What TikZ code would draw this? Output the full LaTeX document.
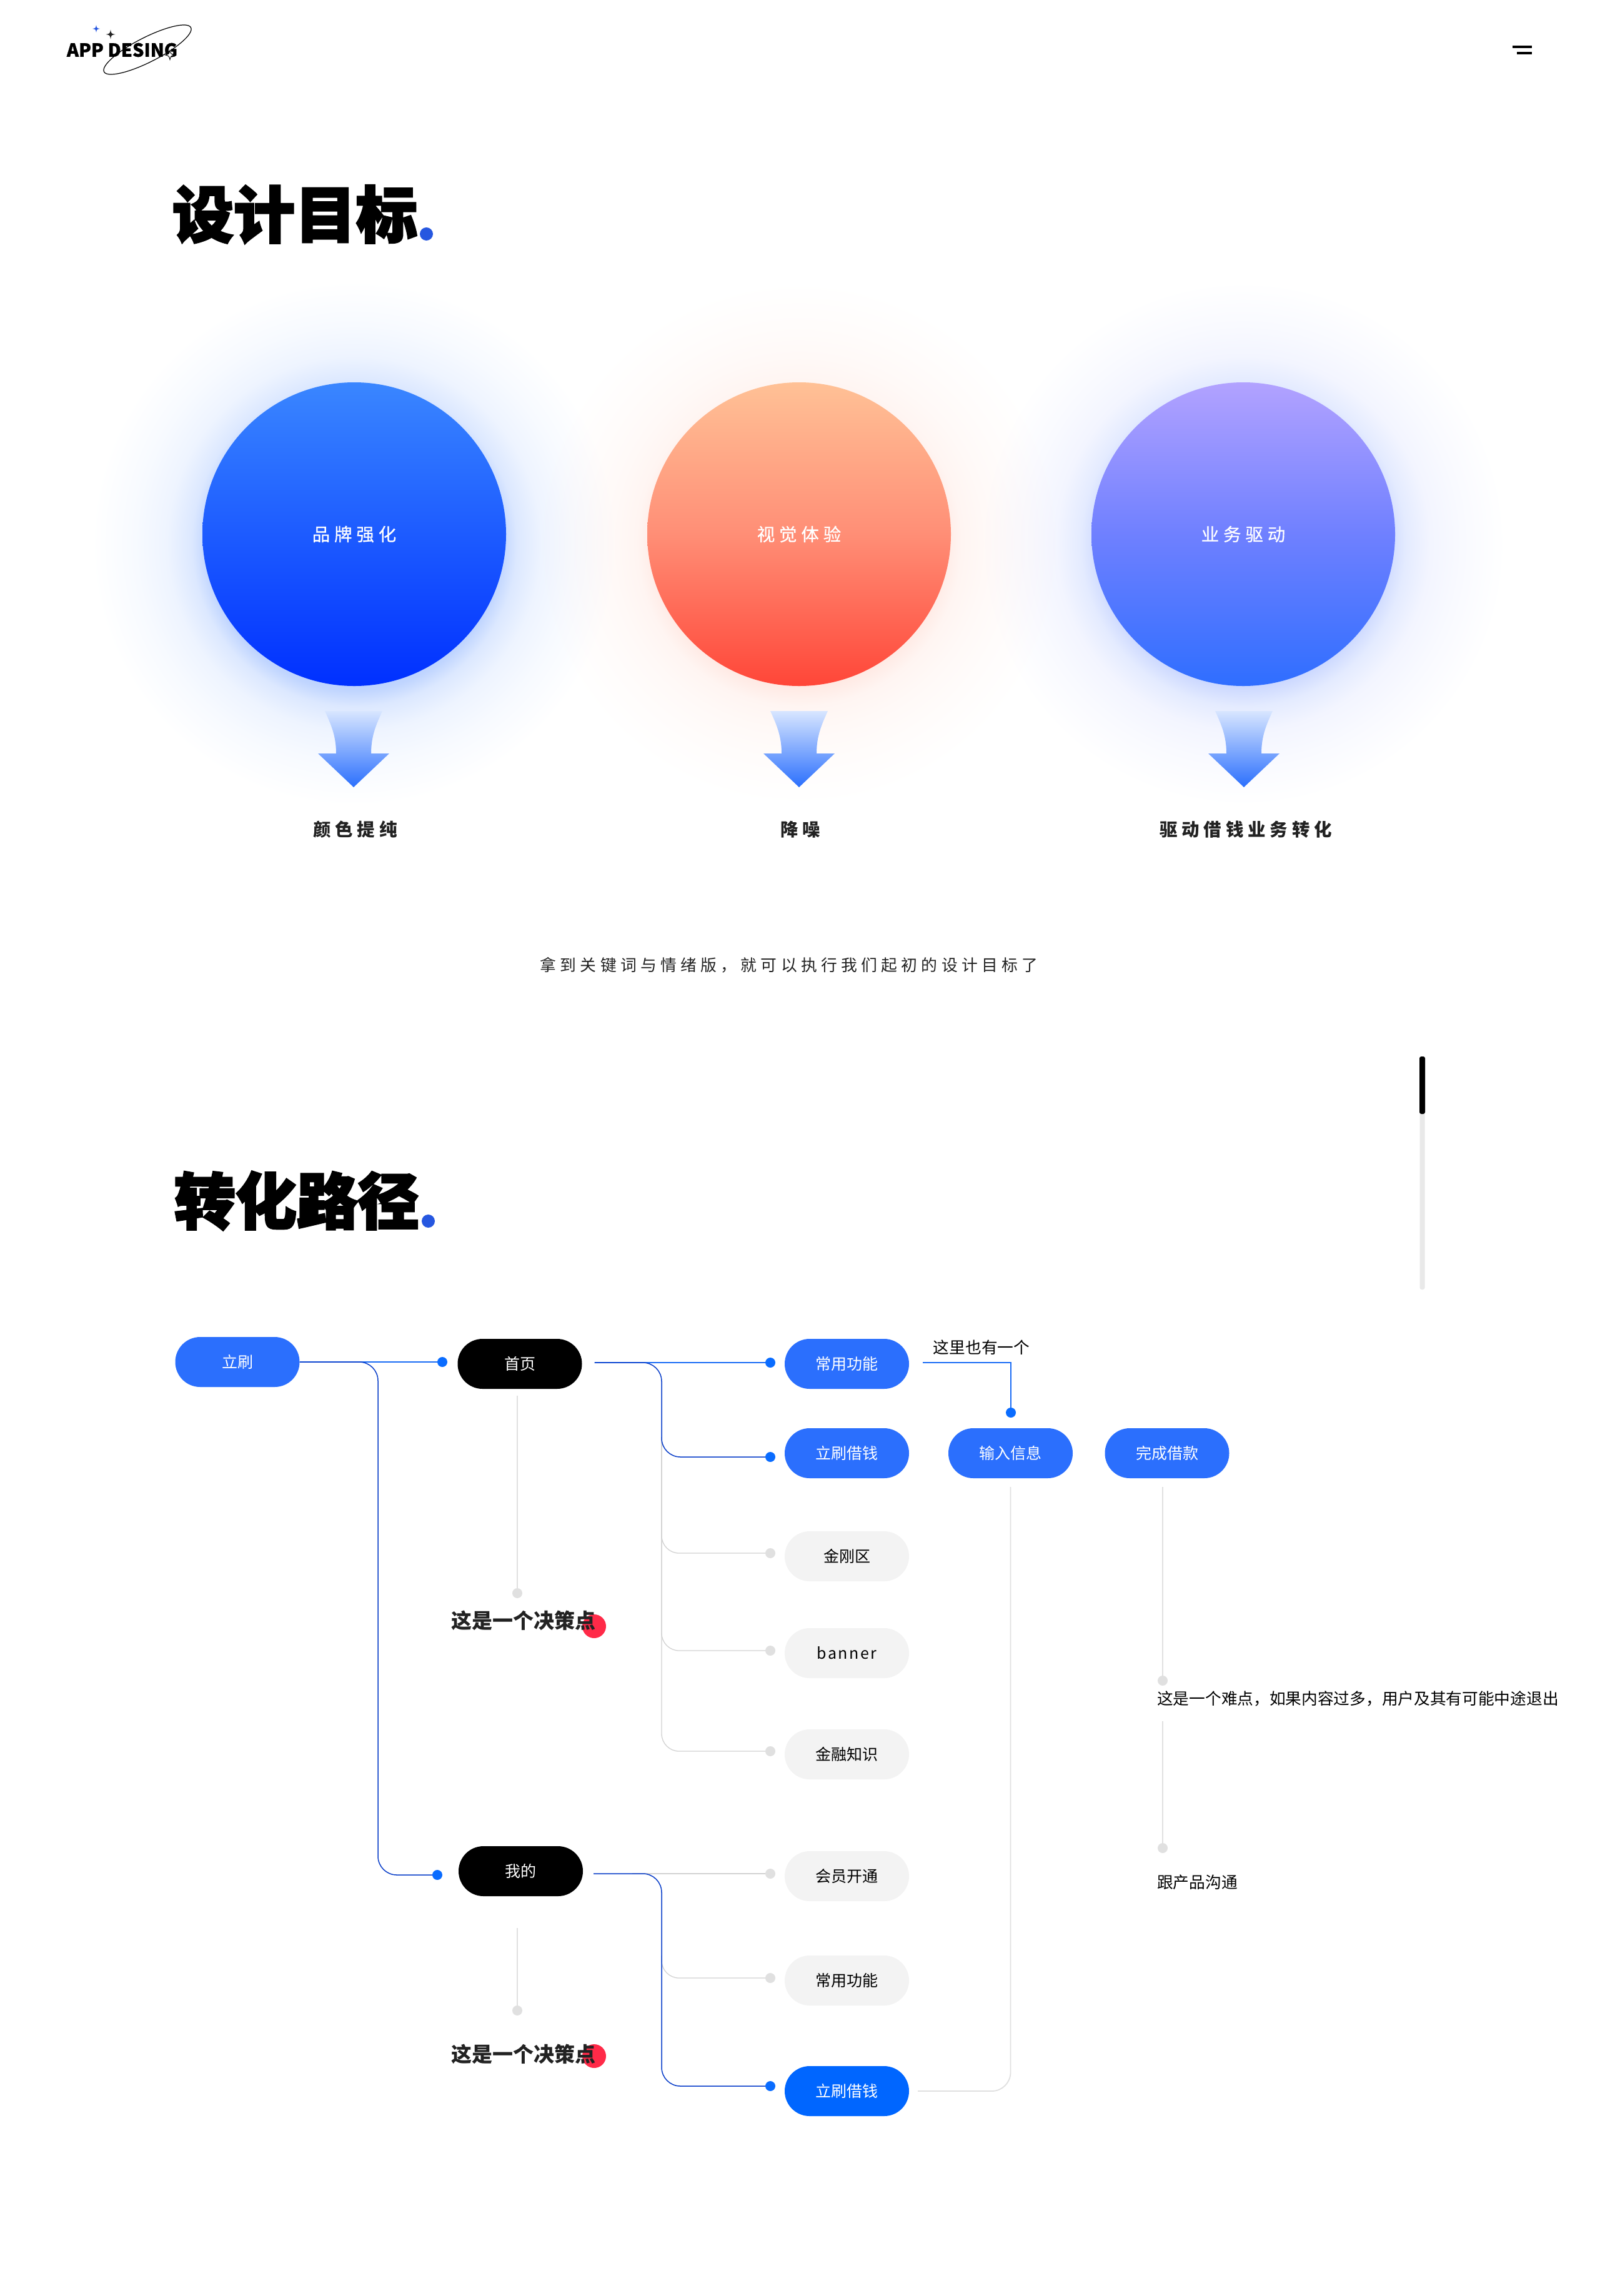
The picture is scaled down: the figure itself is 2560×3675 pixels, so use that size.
\documentclass[tikz,border=0pt]{standalone}
\usepackage{fontspec}
\usetikzlibrary{calc}
\setmainfont{Noto Sans CJK SC}
\newfontfamily\cjk{Noto Sans CJK SC}
\newfontfamily\cjkheavy[BoldFeatures={FakeBold=3}]{Noto Sans CJK SC}
\newfontfamily\cjklogo[BoldFeatures={FakeBold=1}]{Noto Sans CJK SC}
\newfontfamily\cjkwide[LetterSpace=24]{Noto Sans CJK SC}
\newfontfamily\cjkwidem[LetterSpace=24,FakeBold=0.5]{Noto Sans CJK SC}
\newfontfamily\cjkmid[LetterSpace=24.5]{Noto Sans CJK SC}
\newfontfamily\latinspaced[LetterSpace=10]{Noto Sans CJK SC}
\definecolor{pillblue}{HTML}{2B6FFD}
\definecolor{pillstrong}{HTML}{0066FF}
\definecolor{pillgrey}{HTML}{F3F3F3}
\definecolor{linelight}{HTML}{1A6CF5}
\definecolor{linedark}{HTML}{0B3FC9}
\definecolor{dotblue}{HTML}{0A6CFF}
\definecolor{dotgrey}{HTML}{E0E0E0}
\definecolor{linegrey}{HTML}{D2D2D2}
\definecolor{ink}{HTML}{222222}
\definecolor{titledot}{HTML}{2657E0}
\definecolor{reddot}{HTML}{FF2A48}
\definecolor{arrowtop}{HTML}{D8E6FF}
\definecolor{ba}{HTML}{BCD2FF}\definecolor{bb}{HTML}{C0D5FF}\definecolor{bc}{HTML}{DCE8FF}\definecolor{bd}{HTML}{EEF4FF}\definecolor{be}{HTML}{F7FAFF}
\definecolor{pa}{HTML}{FFE8E2}\definecolor{pc}{HTML}{FFF5F2}\definecolor{pd}{HTML}{FFF9F7}\definecolor{pe}{HTML}{FFFCFB}
\definecolor{va}{HTML}{C9D6FF}\definecolor{vc}{HTML}{E4EBFF}\definecolor{vd}{HTML}{F3F5FF}\definecolor{ve}{HTML}{F9FAFF}
\definecolor{c1t}{HTML}{3A86FF}\definecolor{c1b}{HTML}{0030FF}
\definecolor{c2t}{HTML}{FFC196}\definecolor{c2m}{HTML}{FF8E76}\definecolor{c2b}{HTML}{FF4638}
\definecolor{c3t}{HTML}{B2A2FF}\definecolor{c3m}{HTML}{6F80FF}\definecolor{c3b}{HTML}{2F6EFF}
\pgfdeclareradialshading{glowblue}{\pgfpointorigin}{color(0bp)=(ba);color(13.4bp)=(ba);color(14bp)=(bb);color(15.5bp)=(bc);color(17.85bp)=(bd);color(20.85bp)=(be);color(25bp)=(white);color(50bp)=(white)}
\pgfdeclareradialshading{glowpeach}{\pgfpointorigin}{color(0bp)=(pa);color(13.4bp)=(pa);color(15.5bp)=(pc);color(17.85bp)=(pd);color(20.85bp)=(pe);color(25bp)=(white);color(50bp)=(white)}
\pgfdeclareradialshading{glowviolet}{\pgfpointorigin}{color(0bp)=(va);color(13.4bp)=(va);color(15.5bp)=(vc);color(17.85bp)=(vd);color(20.85bp)=(ve);color(25bp)=(white);color(50bp)=(white)}
\tikzset{
  bigcircle/.style={circle,minimum size=486pt,inner sep=0pt,text=white,font=\cjkwidem\fontsize{28.5}{32}\selectfont},
  pillbase/.style={rectangle,rounded corners=39.9pt,minimum width=199pt,minimum height=80pt,inner sep=0pt,font=\cjk\fontsize{25}{30}\selectfont},
  pillb/.style={pillbase,fill=pillblue,text=white},
  pillk/.style={pillbase,fill=black,text=white},
  pillg/.style={pillbase,fill=pillgrey,text=black},
  pills/.style={pillbase,fill=pillstrong,text=white},
  dotb/.style={circle,fill=dotblue,minimum size=16pt,inner sep=0pt},
  dotg/.style={circle,fill=dotgrey,minimum size=16pt,inner sep=0pt},
  lnlight/.style={draw=linelight,line width=1.6pt},
  lndark/.style={draw=linedark,line width=1.5pt},
  lngrey/.style={draw=linegrey,line width=1.3pt},
  lnpale/.style={draw=dotgrey,line width=1.8pt},
  titletext/.style={inner sep=0pt,text=black,font=\cjkheavy\bfseries\fontsize{98}{110}\selectfont},
  sublabel/.style={inner sep=0pt,text=ink,font=\cjkwide\bfseries\fontsize{28.5}{32}\selectfont},
  decision/.style={inner sep=0pt,text=ink,font=\cjk\bfseries\fontsize{33}{38}\selectfont},
  note/.style={inner sep=0pt,text=black,font=\cjk\fontsize{25.7}{30}\selectfont},
  flowarrow/.style={top color=arrowtop,bottom color=pillblue}
}
\begin{document}
\begin{tikzpicture}[x=1pt,y=-1pt]
\useasboundingbox (0,0) rectangle (2560,3675);
\fill[white] (0,0) rectangle (2560,3675);

% glows
\begin{scope}[blend mode=multiply]
\shade[shading=glowblue] (567,870) circle (420);
\shade[shading=glowpeach] (1279,870) circle (420);
\shade[shading=glowviolet] (1990,870) circle (420);
\end{scope}

% logo
\node[inner sep=0pt,text=black,font=\cjklogo\bfseries\fontsize{29}{34}\selectfont] (logotext) at (195.5,80) {APP DESING};
\draw[black,line width=1.2pt] (236,79.5) ellipse [x radius=78,y radius=19.7,rotate=27];
\fill[titledot,shift={(154,46)},scale=6] (0,-1) .. controls (.15,-.15) .. (1,0) .. controls (.15,.15) .. (0,1) .. controls (-.15,.15) .. (-1,0) .. controls (-.15,-.15) .. (0,-1) -- cycle;
\fill[ink,shift={(177,55)},scale=7.5] (0,-1) .. controls (.15,-.15) .. (1,0) .. controls (.15,.15) .. (0,1) .. controls (-.15,.15) .. (-1,0) .. controls (-.15,-.15) .. (0,-1) -- cycle;
\filldraw[fill=white,draw=black,line width=.9pt,shift={(272,88)},scale=7.5] (0,-1) .. controls (.2,-.2) .. (1,0) .. controls (.2,.2) .. (0,1) .. controls (-.2,.2) .. (-1,0) .. controls (-.2,-.2) .. (0,-1) -- cycle;

% menu icon
\fill[black] (2421,73) rectangle (2452,77);
\fill[black] (2428,83) rectangle (2452,87);

% titles
\node[titletext] (title1) at (472,343) {设计目标};
\fill[titledot] (682.5,374.5) circle (10.5);
\node[titletext] (title2) at (475,1922) {转化路径};
\fill[titledot] (685.5,1954.5) circle (10.5);

% circles
\node[bigcircle,top color=c1t,bottom color=c1b] (c1) at (567,855) {\raisebox{-5pt}{品牌强化}};
\node[bigcircle,top color=c2t,bottom color=c2b,middle color=c2m] (c2) at (1279,855) {\raisebox{-5pt}{视觉体验}};
\node[bigcircle,top color=c3t,bottom color=c3b,middle color=c3m] (c3) at (1990,855) {\raisebox{-5pt}{业务驱动}};

% arrows
\foreach \ax in {566,1279,1991}{
  \shade[flowarrow,shift={(\ax,0)}] (-46,1138) .. controls (-36,1160) and (-28,1178) .. (-28,1206) -- (-57,1206) -- (0,1260) -- (57,1206) -- (28,1206) .. controls (28,1178) and (36,1160) .. (46,1138) -- cycle;
}

\node[sublabel] (s1) at (568.5,1328) {颜色提纯};
\node[sublabel] (s2) at (1281,1328) {降噪};
\node[sublabel] (s3) at (1994,1328) {驱动借钱业务转化};
\node[inner sep=0pt,text=ink,font=\cjkmid\fontsize{25.8}{30}\selectfont] (intro) at (1263,1545) {拿到关键词与情绪版，就可以执行我们起初的设计目标了};

% scrollbar
\fill[rounded corners=3pt,fill=dotgrey!70!white] (2272.5,1780) rectangle (2280.5,2064);
\fill[rounded corners=3pt,fill=black] (2272,1691) rectangle (2281,1783);

% pills
\node[pillb] (ls) at (380,2180) {立刷};
\node[pillk] (sy) at (832,2183) {首页};
\node[pillk] (wd) at (833.5,2995) {我的};
\node[pillb] (cy) at (1355.5,2183) {常用功能};
\node[pillb] (lj) at (1355.5,2326) {立刷借钱};
\node[pillb] (sr) at (1617.5,2326) {输入信息};
\node[pillb] (wc) at (1868,2326) {完成借款};
\node[pillg] (jg) at (1355.5,2491) {金刚区};
\node[pillg,font=\latinspaced\fontsize{25}{30}\selectfont] (bn) at (1355.5,2646) {banner};
\node[pillg] (jr) at (1355.5,2808) {金融知识};
\node[pillg] (hy) at (1355.5,3003) {会员开通};
\node[pillg] (cy2) at (1355.5,3170) {常用功能};
\node[pills] (lj2) at (1355.5,3347) {立刷借钱};

% dots
\node[dotb] (dsy) at (708,2180) {};
\node[dotb] (dwd) at (700,3001) {};
\node[dotb] (dcy) at (1233,2181) {};
\node[dotb] (dlj) at (1233,2332) {};
\node[dotb] (dsr) at (1618,2261) {};
\node[dotg] (djg) at (1233,2486) {};
\node[dotg] (dbn) at (1233,2642) {};
\node[dotg] (djr) at (1233,2803) {};
\node[dotg] (dhy) at (1233,2999) {};
\node[dotg] (dcy2) at (1233,3166) {};
\node[dotb] (dlj2) at (1233,3339) {};
\node[dotg] (dd1) at (828,2550) {};
\node[dotg] (dd2) at (828,3218) {};
\node[dotg] (dh1) at (1861,2690) {};
\node[dotg] (dh2) at (1861,2958) {};

% routing points
\coordinate (tA) at (1059,2300);
\coordinate (tB) at (1059,3130);
\coordinate (tC) at (1059,3339);
\coordinate (tD) at (1059,2332);
\coordinate (tE) at (605,3001);
\coordinate (hstart) at (1861,2755);

% grey connectors
\draw[lngrey,rounded corners=28pt] (tA) |- (djg);
\draw[lngrey,rounded corners=28pt] (tA) |- (dbn);
\draw[lngrey,rounded corners=28pt] (tA) |- (djr);
\draw[lngrey,rounded corners=28pt] (tB) |- (dcy2);
\draw[lngrey,shorten <=79pt] ([yshift=-4pt]wd.east) -- (dhy);
\draw[lnpale,rounded corners=30pt,shorten <=14pt,shorten >=14pt] (sr.south) |- (lj2.east);
\draw[lnpale,shorten <=11pt] ([xshift=-4pt]sy.south) -- (dd1);
\draw[lnpale,shorten <=51pt] ([xshift=-5.5pt]wd.south) -- (dd2);
\draw[lnpale,shorten <=14pt] ([xshift=-7pt]wc.south) -- (dh1);
\draw[lnpale] (hstart) -- (dh2);

% blue connectors
\draw[lnlight] (ls.east) -- (dsy);
\draw[lndark,rounded corners=30pt] (ls.east) -| (tE) -- (dwd);
\draw[lnlight,shorten <=20pt] ([yshift=2pt]sy.east) -- (dcy);
\draw[lndark,rounded corners=30pt,shorten <=20pt] ([yshift=2pt]sy.east) -| (tD) -- (dlj);
\draw[lndark,rounded corners=30pt,shorten <=17pt] ([yshift=-4pt]wd.east) -| (tC) -- (dlj2);
\draw[lnlight,shorten <=22pt] ([yshift=2pt]cy.east) -| (dsr);

% texts
\node[circle,fill=reddot,minimum size=38pt,inner sep=0pt] (r1) at (951,2603) {};
\node[decision] (t1) at (838,2594) {这是一个决策点};
\node[circle,fill=reddot,minimum size=38pt,inner sep=0pt] (r2) at (951,3291) {};
\node[decision] (t2) at (838,3288) {这是一个决策点};
\node[note] (n1) at (1571,2157) {这里也有一个};
\node[note,anchor=west] (n2) at (1852,2719) {这是一个难点，如果内容过多，用户及其有可能中途退出};
\node[note,anchor=west] (n3) at (1852,3013) {跟产品沟通};
\end{tikzpicture}
\end{document}
